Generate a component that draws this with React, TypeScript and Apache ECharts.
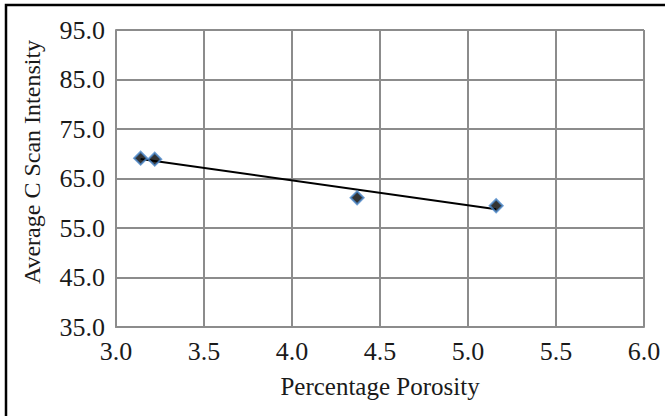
import React, { useRef, useEffect } from "react";
import * as echarts from "echarts";

// values
const porosity = [3.14, 3.22, 4.37, 5.16];
const intensity = [69.1, 68.9, 61.1, 59.5];
// linear trend line end points
const trendX = [3.14, 5.16];
const trendY = [68.95, 58.8];

const xTitle = "Percentage Porosity";
const yTitle = "Average C Scan Intensity";

const FONT = "Liberation Serif";
const GRID_GRAY = "#8c8c8c";
const INK = "#1a1a1a";

const App = () => {
  const chartRef = useRef<HTMLDivElement>(null);

  useEffect(() => {
    const chart = echarts.init(chartRef.current, null, { renderer: "svg" });
    const options = {
      animation: false,
      backgroundColor: "#ffffff",
      textStyle: { fontFamily: FONT, color: INK },
      grid: { left: 116, top: 30, right: 21, bottom: 89 },
      xAxis: {
        type: "value",
        min: 3,
        max: 6,
        interval: 0.5,
        name: xTitle,
        nameLocation: "middle",
        nameGap: 47,
        nameTextStyle: { fontFamily: FONT, fontSize: 25, color: INK },
        axisLine: { show: true, lineStyle: { color: GRID_GRAY, width: 2 } },
        axisTick: { show: false },
        axisLabel: {
          fontSize: 26,
          fontFamily: FONT,
          color: INK,
          margin: 11,
          formatter: (v: number) => v.toFixed(1),
        },
        splitLine: { show: true, lineStyle: { color: GRID_GRAY, width: 2 } },
      },
      yAxis: {
        type: "value",
        min: 35,
        max: 95,
        interval: 10,
        axisLine: { show: true, lineStyle: { color: GRID_GRAY, width: 2 } },
        axisTick: { show: false },
        axisLabel: {
          fontSize: 26,
          fontFamily: FONT,
          color: INK,
          margin: 11,
          formatter: (v: number) => v.toFixed(1),
        },
        splitLine: { show: true, lineStyle: { color: GRID_GRAY, width: 2 } },
      },
      graphic: [
        {
          // outer frame; right and bottom edges fall outside the picture
          type: "rect",
          shape: { x: 6, y: 5, width: 760, height: 520 },
          style: { fill: "none", stroke: "#000000", lineWidth: 2.5 },
          silent: true,
        },
        {
          type: "text",
          x: 32,
          y: 162,
          rotation: Math.PI / 2,
          style: {
            text: yTitle,
            fontFamily: FONT,
            fontSize: 24,
            fill: INK,
            align: "center",
            verticalAlign: "middle",
          },
        },
      ],
      series: [
        {
          name: "Trend",
          type: "line",
          data: trendX.map((x, i) => [x, trendY[i]]),
          symbol: "none",
          lineStyle: { color: "#000000", width: 2 },
          z: 2,
        },
        {
          name: "Samples",
          type: "scatter",
          data: porosity.map((x, i) => [x, intensity[i]]),
          symbol: "diamond",
          symbolSize: 13,
          itemStyle: { color: "#000000", borderColor: "#4a86c8", borderWidth: 2 },
          z: 3,
        },
      ],
    };
    chart.setOption(options);
    return () => {
      chart.dispose();
    };
  }, []);

  return (
    <div
      ref={chartRef}
      style={{ position: "fixed", left: 0, top: 0, width: 665, height: 416 }}
    />
  );
};

export default App;
